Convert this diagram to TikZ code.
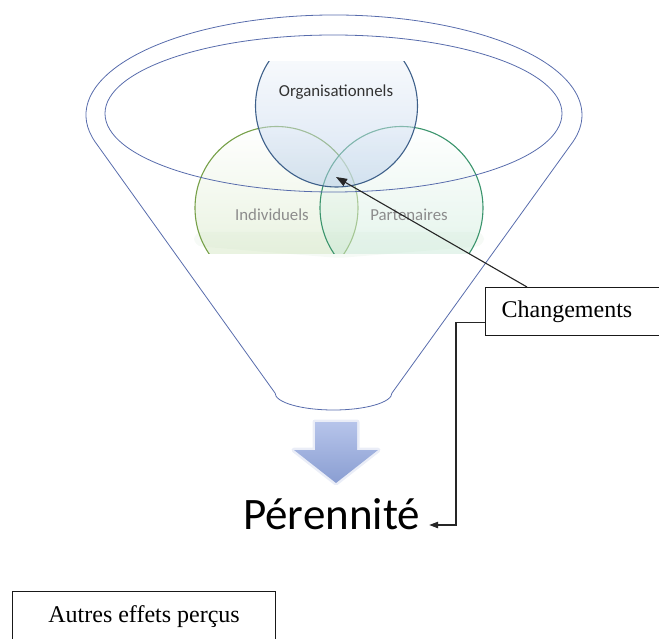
\documentclass[tikz,border=0pt]{standalone}
\usepackage{fontspec}
\setmainfont{Liberation Serif}
\newfontfamily\calibri{Carlito}
\usetikzlibrary{arrows.meta}

\definecolor{entonnoir}{RGB}{88,108,172}
\definecolor{bleuc}{RGB}{178,202,232}
\definecolor{bleuctrait}{RGB}{62,96,138}
\definecolor{vertg}{RGB}{200,224,178}
\definecolor{vertgtrait}{RGB}{118,160,72}
\definecolor{vertd}{RGB}{188,228,206}
\definecolor{vertdtrait}{RGB}{58,148,108}
\definecolor{fond}{RGB}{246,250,246}
\definecolor{flecheh}{RGB}{182,196,234}
\definecolor{flecheb}{RGB}{138,158,210}

\begin{document}
\begin{tikzpicture}[
  x=1pt, y=-1pt,
  font=\calibri,
  >={Triangle[length=11pt, width=8pt]},
  contour/.style={draw=entonnoir, line width=0.8pt},
  bulle/.style={line width=1.1pt, fill opacity=0.5},
  venntxt/.style={font=\calibri\fontsize{16.8}{20}\selectfont, inner sep=0pt},
  cadre/.style={draw=black!90, line width=1.2pt, font=\rmfamily\fontsize{24}{28}\selectfont,
    minimum height=48pt, align=left},
  lien/.style={->, line width=1.1pt, draw=black!85},
  lienp/.style={-{Triangle[length=9pt, width=6.5pt]}, line width=1.1pt, draw=black!85} % petite pointe
]
  \useasboundingbox (0,0) rectangle (659,639);

  % --- Cercles (Venn) ---
  \fill[fond, rounded corners=8pt] (194,232) -- (484,232) -- (484,246) -- (339,258) -- (194,246) -- cycle;
  \begin{scope}
    \clip (180,62) rectangle (500,254);
    \shadedraw[bulle, top color=white, bottom color=vertg, draw=vertgtrait] (276.5,208) circle[radius=81.5pt];
    \shadedraw[bulle, top color=white, bottom color=vertd, draw=vertdtrait] (401.5,208) circle[radius=81.5pt];
    \shadedraw[bulle, top color=white, bottom color=bleuc, draw=bleuctrait] (336.5,106) circle[radius=81pt];
  \end{scope}

  \node[venntxt, text=black!80] (org) at (336,92) {Organisationnels};
  \node[venntxt, text=black!45] (indiv) at (272,215) {Individuels};
  \node[venntxt, text=black!45] (part) at (409,215) {Partenaires};

  % --- Entonnoir ---
  \draw[contour] (333.5,113.5) ellipse[x radius=228.5, y radius=78.5];
  \draw[contour] (334,115) ++(164.5:248 and 100)
    arc[start angle=164.5, end angle=375.5, x radius=248, y radius=100]
    -- (392,393) arc[start angle=0, end angle=180, x radius=58.5, y radius=17] -- cycle;

  % --- Fleche vers la perennite ---
  \draw[flecheb, opacity=0.18, line width=5pt, line join=round]
    (315,422) -- (357,422) -- (357,450) -- (378,450) -- (336,483) -- (294,450) -- (315,450) -- cycle;
  \shade[top color=flecheh, bottom color=flecheb]
    (315,422) -- (357,422) -- (357,450) -- (378,450) -- (336,483) -- (294,450) -- (315,450) -- cycle;

  \node[font=\calibri\fontsize{45}{54}\selectfont, inner xsep=9pt, inner ysep=2pt,
    anchor=base west] (pere) at (234,529) {Pérennité};

  % --- Cadres ---
  \node[cadre, text width=150pt, inner xsep=16pt, anchor=north west] (chg) at (485,287) {Changements};
  \node[cadre, minimum width=263pt, minimum height=51pt, align=center, anchor=north west]
    (autres) at (12,591) {Autres effets perçus};

  % --- Liens ---
  \coordinate (coeur) at (336,177);
  \draw[lien] ([xshift=42pt]chg.north west) -- (coeur);
  \draw[lienp] ([yshift=-11pt]chg.west) -- ++(-29,0) |- ([yshift=4pt]pere.base east);

\end{tikzpicture}
\end{document}
